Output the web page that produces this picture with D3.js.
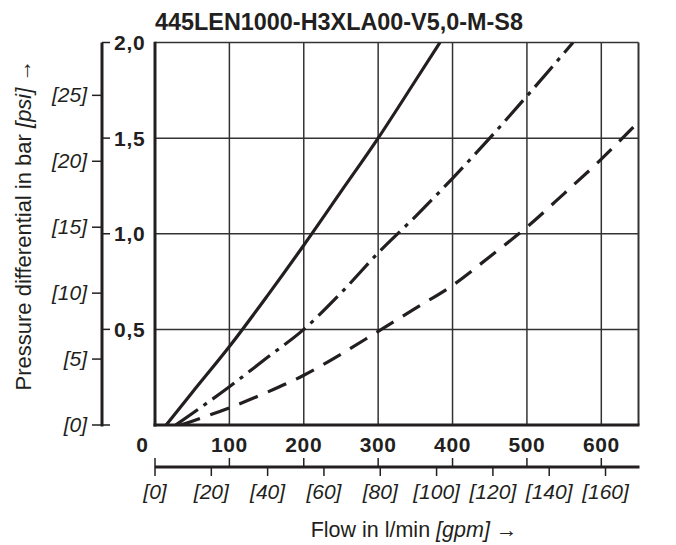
<!DOCTYPE html>
<html>
<head>
<meta charset="utf-8">
<script src="https://cdn.jsdelivr.net/npm/d3@7/dist/d3.min.js"></script>
<style>
  html, body { margin: 0; padding: 0; background: #fff; }
  svg { display: block; font-family: "Liberation Sans", Arial, sans-serif; }
</style>
</head>
<body>
<svg id="chart" width="676" height="545"></svg>
<script>
// ---- data ----
const chartTitle = "445LEN1000-H3XLA00-V5,0-M-S8";
const flowTicks = [100, 200, 300, 400, 500, 600];          // l/min
const gpmTicks = [0, 20, 40, 60, 80, 100, 120, 140, 160];  // gpm
const barTicks = [0.5, 1.0, 1.5, 2.0];                      // bar
const barTickLabels = ["0,5", "1,0", "1,5", "2,0"];
const psiTicks = [0, 5, 10, 15, 20, 25];                    // psi
const gpmPerLpm = 1 / 3.78541;
const psiPerBar = 14.5038;

// solid curve: [flow l/min, dp bar]
const solidFlow = [15, 50, 100, 150, 200, 250, 300, 350, 383];
const solidDp   = [0, 0.17, 0.41, 0.67, 0.94, 1.22, 1.5, 1.8, 2.0];
// dash-dot curve
const dashDotFlow = [28, 50, 100, 150, 200, 250, 300, 350, 400, 450, 500, 562];
const dashDotDp   = [0, 0.06, 0.2, 0.35, 0.5, 0.69, 0.9, 1.09, 1.29, 1.5, 1.72, 2.0];
// dashed curve
const dashedFlow = [35, 50, 100, 150, 200, 250, 300, 350, 400, 450, 500, 550, 600, 650];
const dashedDp   = [0, 0.02, 0.09, 0.17, 0.26, 0.37, 0.49, 0.61, 0.73, 0.88, 1.035, 1.21, 1.39, 1.585];

// ---- layout ----
const svg = d3.select("#chart");
const ink = "#231f20";
const plot = { left: 155, right: 638.5, top: 42.5, bottom: 425 };
const x = d3.scaleLinear().domain([0, 650]).range([plot.left, plot.right]);
const y = d3.scaleLinear().domain([0, 2]).range([plot.bottom, plot.top]);

// title
svg.append("text")
  .attr("x", plot.left).attr("y", 29.5)
  .attr("font-size", 23.4).attr("font-weight", "bold").attr("fill", ink)
  .text(chartTitle);

// grid
const g = svg.append("g");
g.selectAll("line.vg").data(flowTicks).join("line")
  .attr("x1", d => x(d)).attr("x2", d => x(d))
  .attr("y1", plot.top).attr("y2", plot.bottom)
  .attr("stroke", "#333").attr("stroke-width", 1.5);
g.selectAll("line.hg").data([0.5, 1.0, 1.5]).join("line")
  .attr("x1", plot.left).attr("x2", plot.right)
  .attr("y1", d => y(d)).attr("y2", d => y(d))
  .attr("stroke", "#333").attr("stroke-width", 1.5);
// border
g.append("line").attr("x1", plot.left).attr("x2", plot.right).attr("y1", plot.top).attr("y2", plot.top)
  .attr("stroke", "#333").attr("stroke-width", 1.5);
g.append("line").attr("x1", plot.right).attr("x2", plot.right).attr("y1", plot.top).attr("y2", plot.bottom)
  .attr("stroke", "#333").attr("stroke-width", 2);
g.append("line").attr("x1", plot.left).attr("x2", plot.left).attr("y1", plot.top - 0.75).attr("y2", plot.bottom + 1.5)
  .attr("stroke", ink).attr("stroke-width", 3);
g.append("line").attr("x1", plot.left - 1.5).attr("x2", plot.right + 1).attr("y1", plot.bottom).attr("y2", plot.bottom)
  .attr("stroke", ink).attr("stroke-width", 3);

// curves
svg.append("defs").append("clipPath").attr("id", "clip")
  .append("rect").attr("x", plot.left).attr("y", plot.top)
  .attr("width", plot.right - plot.left).attr("height", plot.bottom - plot.top);
const line = d3.line().x(d => x(d[0])).y(d => y(d[1])).curve(d3.curveMonotoneX);
const curves = [
  { pts: d3.zip(solidFlow, solidDp), dash: null },
  { pts: d3.zip(dashDotFlow, dashDotDp), dash: "27,7,4,7" },
  { pts: d3.zip(dashedFlow, dashedDp), dash: "20,11" }
];
svg.append("g").attr("clip-path", "url(#clip)")
  .selectAll("path").data(curves).join("path")
  .attr("d", d => line(d.pts))
  .attr("fill", "none").attr("stroke", ink).attr("stroke-width", 3.2)
  .attr("stroke-dasharray", d => d.dash);

// ---- left (pressure) axis ----
const axX = 102;
svg.append("line").attr("x1", axX).attr("x2", axX).attr("y1", plot.top).attr("y2", plot.bottom + 1.5)
  .attr("stroke", ink).attr("stroke-width", 3);
// bar ticks (to the right)
svg.selectAll("line.bt").data([0, ...barTicks]).join("line")
  .attr("x1", axX).attr("x2", axX + 8)
  .attr("y1", d => y(d)).attr("y2", d => y(d))
  .attr("stroke", ink).attr("stroke-width", 1.5);
svg.selectAll("text.bl").data(barTicks).join("text")
  .attr("x", axX + 12).attr("y", d => y(d) + 7.5)
  .attr("font-size", 21).attr("font-weight", "bold").attr("fill", ink)
  .attr("letter-spacing", 0.8)
  .text((d, i) => barTickLabels[i]);
// psi ticks (to the left)
svg.selectAll("line.pt").data(psiTicks).join("line")
  .attr("x1", axX - 10).attr("x2", axX)
  .attr("y1", d => y(d / psiPerBar)).attr("y2", d => y(d / psiPerBar))
  .attr("stroke", ink).attr("stroke-width", 1.5);
svg.selectAll("text.pl").data(psiTicks).join("text")
  .attr("x", axX - 15).attr("y", d => y(d / psiPerBar) + 7)
  .attr("text-anchor", "end").attr("font-size", 21).attr("font-style", "italic")
  .attr("fill", ink)
  .text(d => `[${d}]`);

// ---- bottom (flow) axis ----
const axY = 467;
svg.append("line").attr("x1", plot.left).attr("x2", plot.right + 1).attr("y1", axY).attr("y2", axY)
  .attr("stroke", ink).attr("stroke-width", 3);
// l/min ticks (up)
svg.selectAll("line.ft").data([0, ...flowTicks]).join("line")
  .attr("x1", d => x(d)).attr("x2", d => x(d))
  .attr("y1", axY - 9).attr("y2", axY)
  .attr("stroke", ink).attr("stroke-width", 1.5);
svg.selectAll("text.fl").data(flowTicks).join("text")
  .attr("x", d => x(d)).attr("y", 451.5)
  .attr("text-anchor", "middle").attr("font-size", 21).attr("font-weight", "bold").attr("fill", ink)
  .attr("letter-spacing", 0.6)
  .text(d => d);
svg.append("text").attr("x", x(0) - 13).attr("y", 451.5)
  .attr("text-anchor", "middle").attr("font-size", 21).attr("font-weight", "bold").attr("fill", ink)
  .text("0");
// gpm ticks (down)
svg.selectAll("line.gt").data(gpmTicks).join("line")
  .attr("x1", d => x(d / gpmPerLpm)).attr("x2", d => x(d / gpmPerLpm))
  .attr("y1", axY).attr("y2", axY + 9)
  .attr("stroke", ink).attr("stroke-width", 1.5);
svg.selectAll("text.gl").data(gpmTicks).join("text")
  .attr("x", d => x(d / gpmPerLpm)).attr("y", 499)
  .attr("text-anchor", "middle").attr("font-size", 21).attr("font-style", "italic").attr("fill", ink)
  .text(d => `[${d}]`);

// ---- axis titles ----
const xt = svg.append("text").attr("x", 414).attr("y", 536.5)
  .attr("text-anchor", "middle").attr("font-size", 21.5).attr("fill", ink);
xt.append("tspan").text("Flow in l/min ");
xt.append("tspan").attr("font-style", "italic").text("[gpm]");
xt.append("tspan").text(" \u2192");

const yt = svg.append("text")
  .attr("transform", "translate(31,225) rotate(-90)")
  .attr("text-anchor", "middle").attr("font-size", 22).attr("fill", ink);
yt.append("tspan").text("Pressure differential in bar ");
yt.append("tspan").attr("font-style", "italic").text("[psi]");
yt.append("tspan").text(" \u2192");
</script>
</body>
</html>
